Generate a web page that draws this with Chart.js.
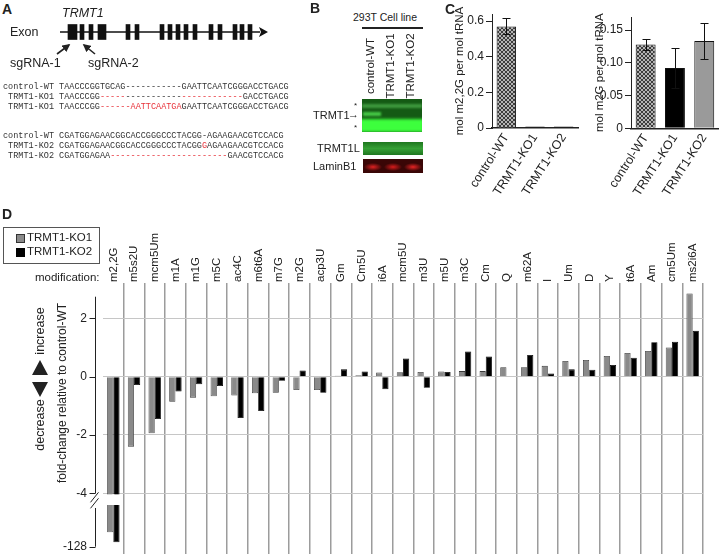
<!DOCTYPE html>
<html>
<head>
<meta charset="utf-8">
<script src="https://cdn.jsdelivr.net/npm/chart.js@4.4.1/dist/chart.umd.min.js"></script>
<style>
  body { margin: 0; background: #fff; }
  #page { position: relative; width: 720px; height: 554px; overflow: hidden; font-family: "Liberation Sans", Arial, sans-serif; color: #222; }
  #page canvas { position: absolute; }
  .t { position: absolute; white-space: nowrap; line-height: 1; }
  .panel { font-weight: bold; font-size: 14px; }
  .seq { position: absolute; left: 3px; font-family: "Liberation Mono", "Courier New", monospace; font-size: 8.5px; line-height: 10px; white-space: pre; color: #333; }
  .seq b { font-weight: normal; color: #e8323a; }
  .rot { position: absolute; white-space: nowrap; line-height: 1; transform: translate(-50%, -50%) rotate(-90deg); }
  .blot { position: absolute; overflow: hidden; }
</style>
</head>
<body>
<div id="page">
  <canvas id="exonChart" width="212" height="24" style="left:60px;top:20px"></canvas>
  <canvas id="m22gChart" width="140" height="200" style="left:450px;top:0"></canvas>
  <canvas id="m2gChart" width="130" height="200" style="left:590px;top:0"></canvas>
  <canvas id="foldChart" width="720" height="354" style="left:0;top:200px"></canvas>

  <!-- panel A -->
  <div class="t panel" style="left:2px;top:2px">A</div>
  <div class="t" style="left:62px;top:7px;font-size:12.5px;font-style:italic">TRMT1</div>
  <div class="t" style="left:10px;top:26px;font-size:12.5px">Exon</div>
  <div class="t" style="left:10px;top:57px;font-size:12.5px">sgRNA-1</div>
  <div class="t" style="left:88px;top:57px;font-size:12.5px">sgRNA-2</div>
  <svg style="position:absolute;left:0;top:0" width="300" height="80">
    <defs><marker id="ah" markerWidth="5" markerHeight="5" refX="4" refY="2.5" orient="auto"><path d="M0,0 L5,2.5 L0,5 z" fill="#222"/></marker></defs>
    <line x1="57" y1="54" x2="69" y2="45" stroke="#222" stroke-width="1.6" marker-end="url(#ah)"/>
    <line x1="95" y1="54" x2="84" y2="45" stroke="#222" stroke-width="1.6" marker-end="url(#ah)"/>
  </svg>
  <div class="seq" style="top:82px">control-WT TAACCCGGTGCAG-----------GAATTCAATCGGGACCTGACG
 TRMT1-KO1 TAACCCGG<b>-----</b>-----------<b>------------</b>GACCTGACG
 TRMT1-KO1 TAACCCGG<b>------AATTCAATGA</b>GAATTCAATCGGGACCTGACG</div>
  <div class="seq" style="top:131px">control-WT CGATGGAGAACGGCACCGGGCCCTACGG-AGAAGAACGTCCACG
 TRMT1-KO2 CGATGGAGAACGGCACCGGGCCCTACGG<b>G</b>AGAAGAACGTCCACG
 TRMT1-KO2 CGATGGAGAA<b>-----------------------</b>GAACGTCCACG</div>

  <!-- panel B -->
  <div class="t panel" style="left:310px;top:1px">B</div>
  <div class="t" style="left:353px;top:12px;font-size:10.5px">293T Cell line</div>
  <div style="position:absolute;left:362px;top:27px;width:61px;height:1.5px;background:#222"></div>
  <div class="rot" style="left:371px;top:66px;font-size:11.5px">control-WT</div>
  <div class="rot" style="left:391px;top:66px;font-size:11.5px">TRMT1-KO1</div>
  <div class="rot" style="left:411px;top:66px;font-size:11.5px">TRMT1-KO2</div>
  <div class="t" style="left:313px;top:110px;font-size:11px">TRMT1</div>
  <div class="t" style="left:348px;top:109px;font-size:11px">&#8594;</div>
  <div class="t" style="left:354px;top:102px;font-size:8px">*</div>
  <div class="t" style="left:354px;top:124px;font-size:8px">*</div>
  <div class="t" style="left:317px;top:143px;font-size:11px">TRMT1L</div>
  <div class="t" style="left:313px;top:161px;font-size:11px">LaminB1</div>
  <div class="blot" style="left:362px;top:99px;width:60px;height:33px;background:#145a14">
    <div style="position:absolute;left:0;top:5px;width:60px;height:4px;background:#4fb24f;filter:blur(1px);opacity:.7"></div>
    <div style="position:absolute;left:1px;top:13px;width:18px;height:4px;background:#45c845;filter:blur(1px)"></div>
    <div style="position:absolute;left:-2px;top:20px;width:64px;height:13px;background:#3dff3d;filter:blur(1.5px)"></div>
  </div>
  <div class="blot" style="left:363px;top:142px;width:60px;height:13px;background:linear-gradient(to bottom,#1f761f,#35a035 50%,#1f761f)"></div>
  <div class="blot" style="left:363px;top:159px;width:60px;height:14px;background:radial-gradient(ellipse 9px 4px at 10px 8px,#e02222,rgba(0,0,0,0)),radial-gradient(ellipse 9px 4px at 30px 8px,#d81c1c,rgba(0,0,0,0)),radial-gradient(ellipse 9px 4px at 50px 8px,#e82424,rgba(0,0,0,0)),#3a0606"></div>

  <!-- panel C -->
  <div class="t panel" style="left:445px;top:2px">C</div>

  <!-- panel D -->
  <div class="t panel" style="left:2px;top:207px">D</div>
  <div style="position:absolute;left:3px;top:227px;width:95px;height:35px;border:1px solid #555"></div>
  <div style="position:absolute;left:16px;top:234px;width:7px;height:7px;background:#8a8a8a;border:1px solid #333"></div>
  <div class="t" style="left:27px;top:232px;font-size:11.5px">TRMT1-KO1</div>
  <div style="position:absolute;left:16px;top:248px;width:7px;height:7px;background:#000;border:1px solid #000"></div>
  <div class="t" style="left:27px;top:246px;font-size:11.5px">TRMT1-KO2</div>
  <div class="t" style="left:35px;top:272px;font-size:11.5px">modification:</div>
  <div class="rot" style="left:62px;top:393px;font-size:12px">fold-change relative to control-WT</div>
  <div class="rot" style="left:40px;top:331px;font-size:12.5px">increase</div>
  <div class="rot" style="left:40px;top:425px;font-size:12.5px">decrease</div>
  <div style="position:absolute;left:32px;top:360px;width:0;height:0;border-left:8px solid transparent;border-right:8px solid transparent;border-bottom:15px solid #222"></div>
  <div style="position:absolute;left:32px;top:382px;width:0;height:0;border-left:8px solid transparent;border-right:8px solid transparent;border-top:15px solid #222"></div>
</div>

<script>
// panel A: TRMT1 exon layout along the gene (gene units)
const exons = [[8, 17], [20, 24], [29, 33], [38, 46], [66, 70], [75, 79], [100, 104], [108, 112],
    [116, 120], [124, 128], [133, 137], [149, 153], [158, 162], [173, 177], [180, 184], [188, 192]];
const geneEnd = 200;

// panel C: tRNA modification levels
const cellLines = ['control-WT', 'TRMT1-KO1', 'TRMT1-KO2'];
const m22G = [0.57, 0.008, 0.008];
const m22GErr = [0.045, 0, 0];
const m2G = [0.128, 0.092, 0.1335];
const m2GErr = [0.008, 0.031, 0.027];

// panel D: fold-change relative to control-WT
const mods = ['m2,2G', 'm5s2U', 'mcm5Um', 'm1A', 'm1G', 'm5C', 'ac4C', 'm6t6A', 'm7G', 'm2G', 'acp3U', 'Gm',
    'Cm5U', 'i6A', 'mcm5U', 'm3U', 'm5U', 'm3C', 'Cm', 'Q', 'm62A', 'I', 'Um', 'D', 'Y', 't6A', 'Am', 'cm5Um', 'ms2i6A'];
const ko1 = [-85, -2.4, -1.94, -0.86, -0.72, -0.67, -0.65, -0.57, -0.55, -0.46, -0.46, 0.03,
    0.05, 0.14, 0.15, 0.16, 0.18, 0.19, 0.19, 0.32, 0.32, 0.37, 0.54, 0.57, 0.71, 0.81, 0.88, 1.0, 2.85];
const ko2 = [-115, -0.29, -1.45, -0.51, -0.26, -0.32, -1.42, -1.18, -0.14, 0.21, -0.55, 0.25,
    0.18, -0.43, 0.62, -0.38, 0.16, 0.86, 0.69, -0.02, 0.74, 0.11, 0.25, 0.24, 0.40, 0.65, 1.18, 1.2, 1.57];
const foldTicks = [2, 0, -2, -4, -128];

Chart.defaults.font.family = '"Liberation Sans", Arial, sans-serif';
Chart.defaults.color = '#222';
Chart.defaults.animation = false;
Chart.defaults.responsive = false;
Chart.defaults.plugins.legend.display = false;
Chart.defaults.plugins.tooltip.enabled = false;

// ---- exon diagram ----
const geneLine = {
    id: 'geneLine',
    beforeDatasetsDraw(chart) {
        const { ctx, scales: { x }, chartArea } = chart;
        const mid = (chartArea.top + chartArea.bottom) / 2;
        ctx.save();
        ctx.strokeStyle = '#111';
        ctx.fillStyle = '#111';
        ctx.lineWidth = 1.5;
        ctx.beginPath();
        ctx.moveTo(x.getPixelForValue(0), mid);
        ctx.lineTo(x.getPixelForValue(geneEnd), mid);
        ctx.stroke();
        ctx.beginPath();
        ctx.moveTo(x.getPixelForValue(geneEnd - 1), mid - 5);
        ctx.lineTo(x.getPixelForValue(geneEnd + 8), mid);
        ctx.lineTo(x.getPixelForValue(geneEnd - 1), mid + 5);
        ctx.lineTo(x.getPixelForValue(geneEnd + 1), mid);
        ctx.fill();
        ctx.restore();
    }
};

new Chart('exonChart', {
    type: 'bar',
    data: {
        labels: ['TRMT1'],
        datasets: exons.map(([start, end]) => ({
            data: [[start, end]],
            backgroundColor: '#111',
            grouped: false,
            barThickness: 15
        }))
    },
    options: {
        indexAxis: 'y',
        layout: { padding: 0 },
        scales: {
            x: { type: 'linear', min: 0, max: 212, display: false },
            y: { display: false }
        }
    },
    plugins: [geneLine]
});

// ---- panel C ----
const hatch = (ctx) => {
    const c = document.createElement('canvas');
    c.width = 4;
    c.height = 4;
    const g = c.getContext('2d');
    g.fillStyle = '#b4b4b4';
    g.fillRect(0, 0, 4, 4);
    g.strokeStyle = '#3c3c3c';
    g.lineWidth = 1;
    g.beginPath();
    g.moveTo(0, 4); g.lineTo(4, 0);
    g.moveTo(0, 0); g.lineTo(4, 4);
    g.stroke();
    return ctx.createPattern(c, 'repeat');
};

const errorBars = {
    id: 'errorBars',
    afterDatasetsDraw(chart, args, opts) {
        const { ctx, scales: { y } } = chart;
        const values = chart.data.datasets[0].data;
        ctx.save();
        ctx.strokeStyle = '#111';
        ctx.lineWidth = 1;
        chart.getDatasetMeta(0).data.forEach((bar, i) => {
            const err = opts.err[i];
            if (!err)
                return;
            const top = Math.round(y.getPixelForValue(values[i] + err)) + 0.5;
            const bottom = Math.round(y.getPixelForValue(values[i] - err)) + 0.5;
            const x = Math.round(bar.x) + 0.5;
            ctx.beginPath();
            ctx.moveTo(x, top); ctx.lineTo(x, bottom);
            ctx.moveTo(x - 4, top); ctx.lineTo(x + 4, top);
            ctx.moveTo(x - 4, bottom); ctx.lineTo(x + 4, bottom);
            ctx.stroke();
        });
        ctx.restore();
    }
};

const levelChart = (id, values, errs, colors, max, step, title, yWidth, xHeight, padTop, padRight) => {
    const ctx = document.getElementById(id).getContext('2d');
    return new Chart(ctx, {
        type: 'bar',
        data: {
            labels: cellLines,
            datasets: [{
                data: values,
                backgroundColor: colors.map(c => c === 'hatch' ? hatch(ctx) : c),
                borderColor: '#111',
                borderWidth: 1,
                barPercentage: 0.68,
                categoryPercentage: 1
            }]
        },
        options: {
            layout: { padding: { top: padTop, right: padRight } },
            plugins: { errorBars: { err: errs } },
            scales: {
                y: {
                    min: 0,
                    max: max,
                    afterFit: s => { s.width = yWidth; },
                    title: {
                        display: true,
                        text: title,
                        font: { size: 11.5 },
                        padding: { top: 3, bottom: 0 }
                    },
                    ticks: {
                        stepSize: step,
                        includeBounds: false,
                        font: { size: 12 },
                        padding: 2,
                        color: '#222'
                    },
                    grid: { drawOnChartArea: false, tickLength: 6, tickColor: '#222' },
                    border: { color: '#222', width: 1 }
                },
                x: {
                    afterFit: s => { s.height = xHeight; },
                    ticks: {
                        minRotation: 57,
                        maxRotation: 57,
                        font: { size: 12.5 },
                        padding: 3,
                        color: '#222'
                    },
                    grid: { display: false, drawTicks: false },
                    border: { color: '#222', width: 1.5 }
                }
            }
        },
        plugins: [errorBars]
    });
};

levelChart('m22gChart', m22G, m22GErr, ['hatch', '#111', '#111'], 0.64, 0.2,
    'mol m2,2G per mol tRNA', 42, 72, 14, 12);
levelChart('m2gChart', m2G, m2GErr, ['hatch', '#000', '#9a9a9a'], 0.17, 0.05,
    'mol m2G per mol tRNA', 41, 71.7, 17, 1);

// ---- panel D: broken y axis ----
const BREAK_AT = -4;
const BREAK_GAP = 0.4;
const LOW_SPAN = 1.43;
const LOW_MIN = -128;
const toAxis = v => v >= BREAK_AT ? v : BREAK_AT - BREAK_GAP - (BREAK_AT - v) / (BREAK_AT - LOW_MIN) * LOW_SPAN;

const brokenAxis = {
    id: 'brokenAxis',
    afterDatasetsDraw(chart) {
        const { ctx, scales: { y }, chartArea } = chart;
        const yBreak = y.getPixelForValue(BREAK_AT);
        const yResume = y.getPixelForValue(BREAK_AT - BREAK_GAP);
        ctx.save();
        // white gap across the broken bars
        ctx.fillStyle = '#fff';
        chart.data.datasets.forEach((ds, i) => {
            chart.getDatasetMeta(i).data.forEach((bar, j) => {
                if (ds.raw[j] < BREAK_AT)
                    ctx.fillRect(bar.x - bar.width / 2 - 1, yBreak + 1, bar.width + 2, yResume - yBreak - 1);
            });
        });
        // axis line, ticks and break marks
        const x0 = Math.round(chartArea.left - 8) + 0.5;
        ctx.strokeStyle = '#222';
        ctx.lineWidth = 1;
        ctx.beginPath();
        ctx.moveTo(x0, y.getPixelForValue(2.74));
        ctx.lineTo(x0, yBreak);
        foldTicks.forEach(v => {
            const py = Math.round(y.getPixelForValue(toAxis(v))) + 0.5;
            ctx.moveTo(x0 - 6, py);
            ctx.lineTo(x0, py);
        });
        ctx.moveTo(x0, yResume + 3);
        ctx.lineTo(x0, y.getPixelForValue(toAxis(LOW_MIN)));
        ctx.moveTo(x0 - 5, yBreak + 9);
        ctx.lineTo(x0 + 3, yBreak - 1);
        ctx.moveTo(x0 - 5, yBreak + 15);
        ctx.lineTo(x0 + 3, yBreak + 5);
        ctx.stroke();
        ctx.restore();
    }
};

new Chart('foldChart', {
    type: 'bar',
    data: {
        labels: mods,
        datasets: [
            {
                label: 'TRMT1-KO1',
                raw: ko1,
                data: ko1.map(toAxis),
                backgroundColor: '#8a8a8a',
                borderColor: '#3a3a3a',
                borderWidth: 0.8,
                barPercentage: 1,
                categoryPercentage: 0.6
            },
            {
                label: 'TRMT1-KO2',
                raw: ko2,
                data: ko2.map(toAxis),
                backgroundColor: '#000',
                borderColor: '#000',
                borderWidth: 0.8,
                barPercentage: 1,
                categoryPercentage: 0.6
            }
        ]
    },
    options: {
        layout: { padding: { left: 0, right: 17, top: 0, bottom: 0 } },
        scales: {
            x: {
                position: 'top',
                afterFit: s => { s.height = 90; s.paddingLeft = 0; s.paddingRight = 0; },
                ticks: {
                    minRotation: 90,
                    maxRotation: 90,
                    autoSkip: false,
                    labelOffset: 14,
                    font: { size: 11.5 },
                    padding: 1,
                    color: '#222'
                },
                grid: {
                    offset: true,
                    color: c => c.index === 0 ? 'rgba(0,0,0,0)' : '#9c9c9c',
                    lineWidth: 1.5,
                    tickLength: 7
                },
                border: { display: false }
            },
            y: {
                min: -6.08,
                max: 2.97,
                afterFit: s => { s.width = 103; s.paddingTop = 0; s.paddingBottom = 0; },
                afterBuildTicks: s => { s.ticks = foldTicks.map(v => ({ value: toAxis(v) })); },
                ticks: {
                    callback: v => v < BREAK_AT - 0.1 ? String(LOW_MIN) : String(v),
                    font: { size: 12 },
                    padding: 16,
                    color: '#222'
                },
                grid: {
                    color: c => c.tick && c.tick.value < BREAK_AT - 0.1 ? 'rgba(0,0,0,0)' : '#c6c6c6',
                    drawTicks: false
                },
                border: { display: false }
            }
        }
    },
    plugins: [brokenAxis]
});
</script>
</body>
</html>
